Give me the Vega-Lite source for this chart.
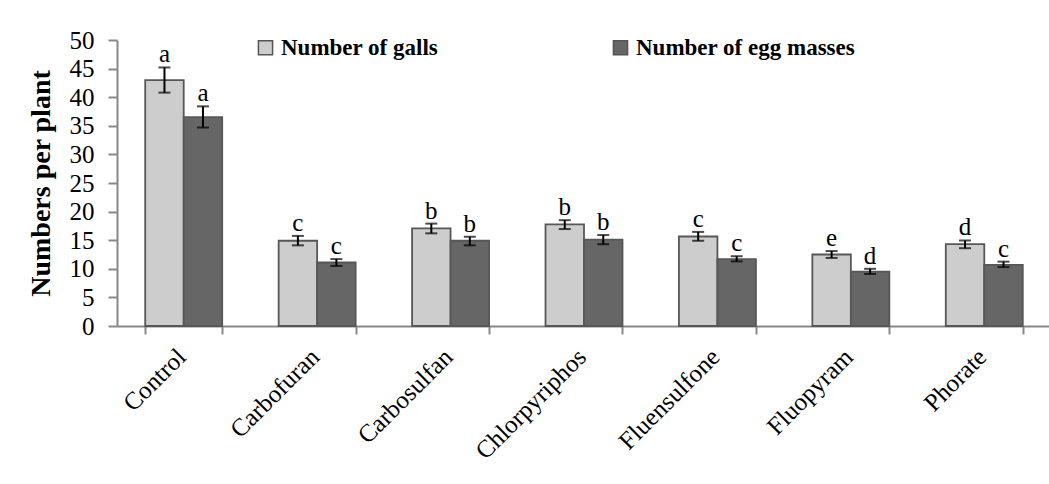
{
  "$schema": "https://vega.github.io/schema/vega-lite/v6.json",
  "width": 934,
  "height": 286,
  "autosize": {"type": "none"},
  "padding": {"left": 117, "top": 40, "right": 0, "bottom": 158},
  "background": "white",
  "config": {
    "view": {"stroke": null},
    "font": "Liberation Serif",
    "axis": {
      "labelFont": "Liberation Serif",
      "labelColor": "black",
      "labelOverlap": false,
      "tickColor": "#888888",
      "tickWidth": 2,
      "domainColor": "#888888",
      "domainWidth": 2,
      "grid": false
    },
    "axisX": {
      "labelFontSize": 25,
      "labelAngle": -45,
      "labelAlign": "right",
      "labelBaseline": "top",
      "labelPadding": 10,
      "labelOffset": -11,
      "tickSize": 8
    },
    "axisY": {
      "labelFontSize": 25,
      "labelPadding": 14,
      "tickSize": 9,
      "titleFont": "Liberation Serif",
      "titleFontSize": 28,
      "titleFontWeight": "bold",
      "titleColor": "black",
      "titlePadding": 14
    }
  },
  "resolve": {"scale": {"y": "shared"}, "axis": {"y": "independent"}},
  "data": {
    "values": [
      {"treatment": "Control", "series": "Number of galls", "value": 43.0, "lo": 40.8, "hi": 45.2, "letter": "a"},
      {"treatment": "Control", "series": "Number of egg masses", "value": 36.5, "lo": 34.7, "hi": 38.4, "letter": "a"},
      {"treatment": "Carbofuran", "series": "Number of galls", "value": 14.9, "lo": 14.1, "hi": 15.75, "letter": "c"},
      {"treatment": "Carbofuran", "series": "Number of egg masses", "value": 11.1, "lo": 10.5, "hi": 11.7, "letter": "c"},
      {"treatment": "Carbosulfan", "series": "Number of galls", "value": 17.05, "lo": 16.2, "hi": 17.9, "letter": "b"},
      {"treatment": "Carbosulfan", "series": "Number of egg masses", "value": 14.9, "lo": 14.1, "hi": 15.6, "letter": "b"},
      {"treatment": "Chlorpyriphos", "series": "Number of galls", "value": 17.75, "lo": 16.95, "hi": 18.5, "letter": "b"},
      {"treatment": "Chlorpyriphos", "series": "Number of egg masses", "value": 15.1, "lo": 14.3, "hi": 15.9, "letter": "b"},
      {"treatment": "Fluensulfone", "series": "Number of galls", "value": 15.65, "lo": 14.9, "hi": 16.45, "letter": "c"},
      {"treatment": "Fluensulfone", "series": "Number of egg masses", "value": 11.7, "lo": 11.3, "hi": 12.2, "letter": "c"},
      {"treatment": "Fluopyram", "series": "Number of galls", "value": 12.5, "lo": 11.9, "hi": 13.1, "letter": "e"},
      {"treatment": "Fluopyram", "series": "Number of egg masses", "value": 9.5, "lo": 9.1, "hi": 10.0, "letter": "d"},
      {"treatment": "Phorate", "series": "Number of galls", "value": 14.3, "lo": 13.6, "hi": 14.95, "letter": "d"},
      {"treatment": "Phorate", "series": "Number of egg masses", "value": 10.7, "lo": 10.3, "hi": 11.25, "letter": "c"}
    ]
  },
  "encoding": {
    "x": {
      "field": "treatment",
      "type": "nominal",
      "sort": null,
      "scale": {"paddingInner": 0.423, "paddingOuter": 0.2115},
      "axis": {"title": null, "tickBand": "extent"}
    },
    "xOffset": {
      "field": "series",
      "type": "nominal",
      "sort": ["Number of galls", "Number of egg masses"],
      "scale": {"paddingInner": 0, "paddingOuter": 0}
    }
  },
  "layer": [
    {
      "mark": {"type": "bar", "stroke": "#575757", "strokeWidth": 1.8},
      "encoding": {
        "y": {
          "field": "value",
          "type": "quantitative",
          "scale": {"domain": [0, 50], "nice": false},
          "axis": {
            "title": "Numbers per plant",
            "values": [0, 5, 10, 15, 20, 25, 30, 35, 40, 45, 50]
          }
        },
        "color": {
          "field": "series",
          "type": "nominal",
          "sort": ["Number of galls", "Number of egg masses"],
          "scale": {"range": ["#cdcdcd", "#666666"]},
          "legend": {
            "title": null,
            "orient": "none",
            "legendX": 137,
            "legendY": -4,
            "direction": "horizontal",
            "columns": 2,
            "columnPadding": 170,
            "symbolType": "square",
            "symbolSize": 200,
            "symbolStrokeColor": "#555555",
            "symbolStrokeWidth": 1.5,
            "labelFont": "Liberation Serif",
            "labelFontSize": 23,
            "labelFontWeight": "bold",
            "labelColor": "black",
            "labelOffset": 4,
            "labelLimit": 400
          }
        }
      }
    },
    {
      "mark": {"type": "rule", "color": "black", "strokeWidth": 2},
      "encoding": {
        "y": {"field": "lo", "type": "quantitative", "axis": null},
        "y2": {"field": "hi"}
      }
    },
    {
      "mark": {"type": "tick", "color": "black", "thickness": 2, "size": 12},
      "encoding": {"y": {"field": "lo", "type": "quantitative", "axis": null}}
    },
    {
      "mark": {"type": "tick", "color": "black", "thickness": 2, "size": 12},
      "encoding": {"y": {"field": "hi", "type": "quantitative", "axis": null}}
    },
    {
      "mark": {"type": "text", "font": "Liberation Serif", "fontSize": 25, "color": "black", "baseline": "alphabetic", "dy": -5},
      "encoding": {
        "y": {"field": "hi", "type": "quantitative", "axis": null},
        "text": {"field": "letter"}
      }
    }
  ]
}
